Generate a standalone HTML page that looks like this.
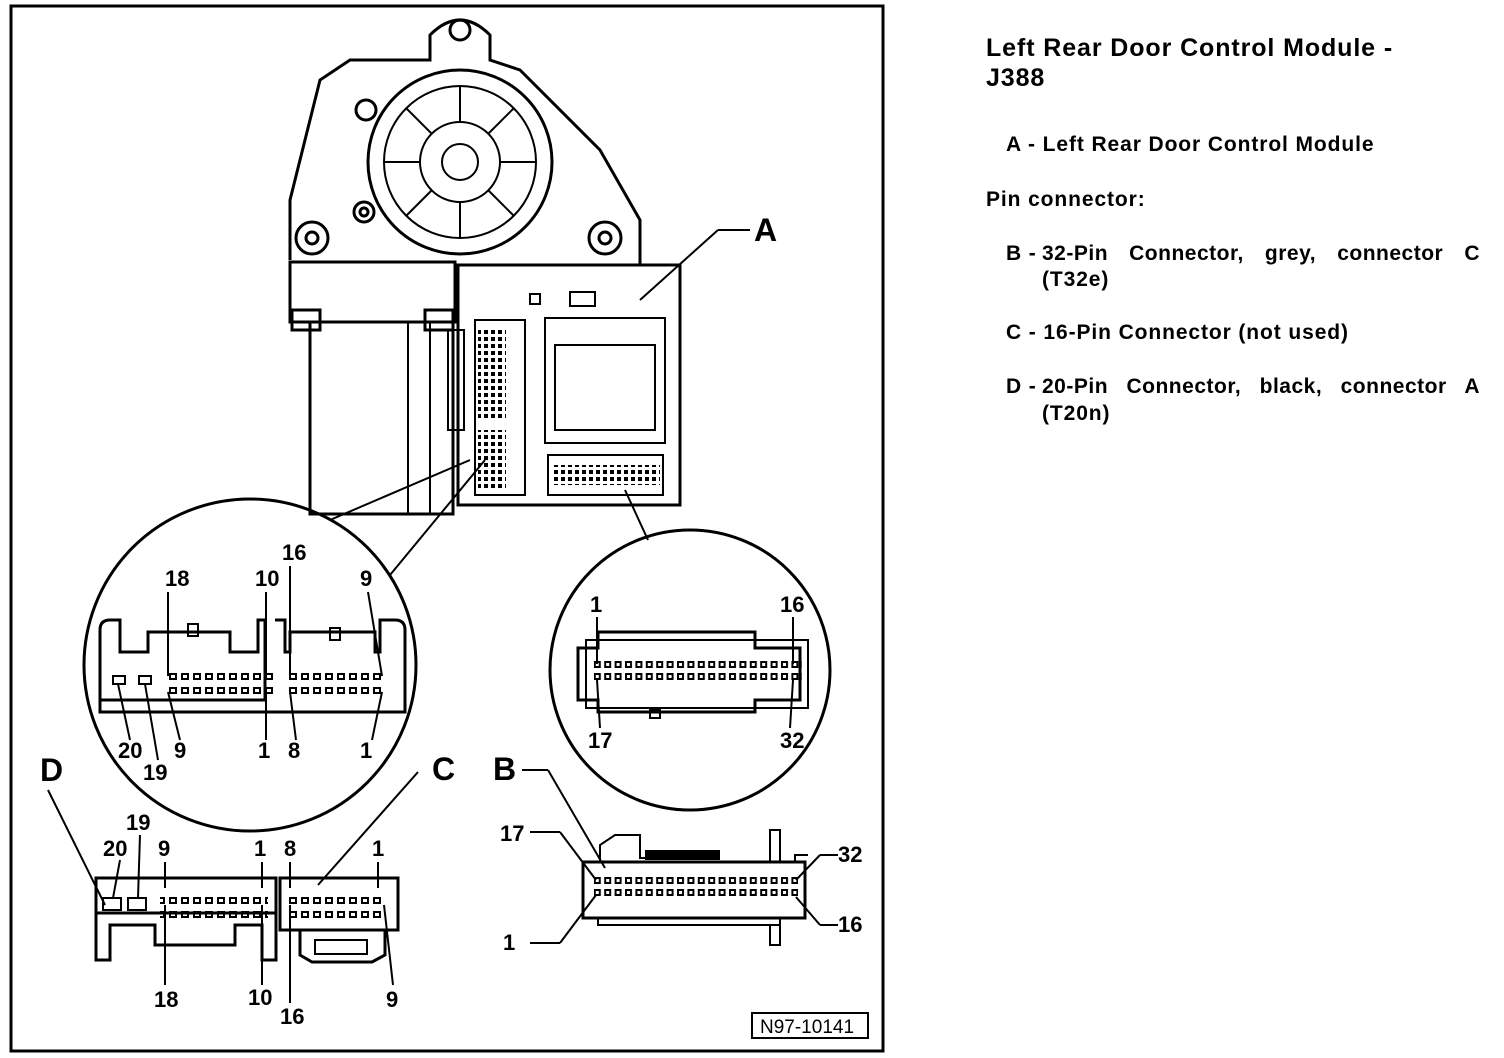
<!DOCTYPE html>
<html><head><meta charset="utf-8"><style>
html,body{margin:0;padding:0;background:#fff;}
.t{position:absolute;font-family:"Liberation Sans",Arial,sans-serif;font-weight:bold;color:#000;letter-spacing:0.9px;}
</style></head><body>
<div style="position:relative;width:1504px;height:1058px;overflow:hidden;">
<svg width="1504" height="1058" style="position:absolute;left:0;top:0" font-family="Liberation Sans, Arial, sans-serif" font-weight="bold">
<defs>
<pattern id="p12" x="0" y="0" width="12" height="14" patternUnits="userSpaceOnUse"><rect x="2" y="2" width="6" height="5" fill="none" stroke="#000" stroke-width="2"/></pattern>
<pattern id="p10" x="0" y="0" width="10.4" height="12" patternUnits="userSpaceOnUse"><rect x="2" y="2" width="5" height="5" fill="none" stroke="#000" stroke-width="2"/></pattern>
<pattern id="p7" x="0" y="0" width="7" height="7" patternUnits="userSpaceOnUse"><rect x="1" y="1" width="4" height="4" fill="#000"/></pattern>
</defs>
<g fill="none" stroke="#000" stroke-width="3">
<rect x="11" y="6" width="872" height="1045"/>
<path d="M290 260 L290 200 L320 80 L350 60 L430 60 L430 35 Q460 5 490 35 L490 60 L520 70 L600 150 L640 220 L640 265 L630 265"/>
<circle cx="460" cy="162" r="92"/>
<circle cx="460" cy="162" r="76" stroke-width="2"/>
<circle cx="460" cy="162" r="40" stroke-width="2"/>
<circle cx="460" cy="162" r="18" stroke-width="2"/>
<g stroke-width="2">
<line x1="460" y1="86" x2="460" y2="122"/><line x1="460" y1="202" x2="460" y2="238"/>
<line x1="384" y1="162" x2="420" y2="162"/><line x1="500" y1="162" x2="536" y2="162"/>
<line x1="406" y1="108" x2="432" y2="134"/><line x1="488" y1="190" x2="514" y2="216"/>
<line x1="514" y1="108" x2="488" y2="134"/><line x1="432" y1="190" x2="406" y2="216"/>
</g>
<circle cx="460" cy="30" r="10"/>
<circle cx="312" cy="238" r="16"/><circle cx="312" cy="238" r="6"/>
<circle cx="605" cy="238" r="16"/><circle cx="605" cy="238" r="6"/>
<circle cx="364" cy="212" r="10"/><circle cx="364" cy="212" r="4"/>
<circle cx="366" cy="110" r="10"/>
<rect x="290" y="262" width="165" height="60"/>
<rect x="292" y="310" width="28" height="20"/><rect x="425" y="310" width="28" height="20"/>
<rect x="310" y="322" width="143" height="192"/>
<line x1="408" y1="322" x2="408" y2="514" stroke-width="2"/>
<line x1="430" y1="322" x2="430" y2="514" stroke-width="2"/>
<rect x="458" y="265" width="222" height="240"/>
<rect x="545" y="318" width="120" height="125" stroke-width="2"/>
<rect x="555" y="345" width="100" height="85" stroke-width="2"/>
<rect x="475" y="320" width="50" height="175" stroke-width="2"/>
<rect x="448" y="330" width="16" height="100" stroke-width="2"/>
<rect x="548" y="455" width="115" height="40" stroke-width="2"/>
<rect x="570" y="292" width="25" height="14" stroke-width="2"/>
<rect x="530" y="294" width="10" height="10" stroke-width="2"/>
<line x1="640" y1="300" x2="718" y2="230" stroke-width="2"/>
<line x1="718" y1="230" x2="750" y2="230" stroke-width="2"/>
<path d="M470 460 L330 520 M485 460 L390 575" stroke-width="2"/>
<path d="M625 490 L648 540" stroke-width="2"/>
<circle cx="250" cy="665" r="166"/>
<circle cx="690" cy="670" r="140"/>
<path d="M100 630 Q100 620 110 620 L120 620 L120 652 L148 652 L148 632 L230 632 L230 652 L258 652 L258 620 L265 620 L265 700 L100 700 Z" stroke-width="3"/>
<path d="M275 620 L285 620 L285 652 L290 652 L290 632 L375 632 L375 652 L380 652 L380 620 L395 620 Q405 620 405 630 L405 712 L100 712 L100 630" stroke-width="3"/>
<rect x="188" y="624" width="10" height="12" stroke-width="2"/><rect x="330" y="628" width="10" height="12" stroke-width="2"/>
<rect x="113" y="676" width="12" height="8" stroke-width="2"/><rect x="139" y="676" width="12" height="8" stroke-width="2"/>
<path d="M578 648 L598 648 L598 632 L755 632 L755 648 L800 648 L800 700 L755 700 L755 712 L598 712 L598 700 L578 700 Z"/>
<rect x="586" y="640" width="222" height="68" stroke-width="2"/>
<rect x="650" y="710" width="10" height="8" stroke-width="2"/>
<rect x="96" y="878" width="180" height="35" stroke-width="3"/>
<path d="M96 913 L96 960 L110 960 L110 925 L155 925 L155 945 L235 945 L235 925 L262 925 L262 960 L276 960 L276 913" stroke-width="3"/>
<rect x="103" y="898" width="18" height="12" stroke-width="2"/><rect x="128" y="898" width="18" height="12" stroke-width="2"/>
<rect x="280" y="878" width="118" height="52" stroke-width="3"/>
<path d="M300 930 L300 955 L312 962 L372 962 L385 955 L385 930" stroke-width="3"/>
<rect x="315" y="940" width="52" height="14" stroke-width="2"/>
<path d="M583 862 L805 862 L805 918 L583 918 Z"/>
<path d="M600 862 L600 845 L615 835 L640 835 L640 858 L720 858 M770 862 L770 830 L780 830 L780 862 M795 862 L795 855 L808 855" stroke-width="2"/>
<path d="M598 918 L598 925 L780 925 L780 918 M770 925 L770 945 L780 945 L780 925" stroke-width="2"/>
<rect x="645" y="850" width="75" height="10" fill="#000" stroke="none"/>
<g stroke-width="2">
<line x1="48" y1="790" x2="105" y2="905"/>
<line x1="418" y1="772" x2="318" y2="885"/>
<line x1="522" y1="770" x2="548" y2="770"/><line x1="548" y1="770" x2="605" y2="868"/>
<line x1="530" y1="832" x2="560" y2="832"/><line x1="560" y1="832" x2="596" y2="880"/>
<line x1="530" y1="943" x2="560" y2="943"/><line x1="560" y1="943" x2="596" y2="895"/>
<line x1="838" y1="855" x2="820" y2="855"/><line x1="820" y1="855" x2="796" y2="880"/>
<line x1="838" y1="925" x2="820" y2="925"/><line x1="820" y1="925" x2="796" y2="897"/>
<line x1="120" y1="860" x2="113" y2="898"/><line x1="140" y1="835" x2="138" y2="898"/>
<line x1="165" y1="862" x2="165" y2="888"/><line x1="165" y1="905" x2="165" y2="985"/>
<line x1="262" y1="862" x2="262" y2="888"/><line x1="262" y1="905" x2="262" y2="985"/>
<line x1="290" y1="862" x2="290" y2="888"/><line x1="290" y1="905" x2="290" y2="1003"/>
<line x1="378" y1="862" x2="378" y2="888"/><line x1="384" y1="905" x2="393" y2="985"/>
<line x1="168" y1="592" x2="168" y2="676"/><line x1="168" y1="692" x2="180" y2="740"/>
<line x1="266" y1="592" x2="266" y2="676"/><line x1="266" y1="692" x2="266" y2="740"/>
<line x1="290" y1="566" x2="290" y2="676"/><line x1="290" y1="692" x2="296" y2="740"/>
<line x1="368" y1="592" x2="382" y2="676"/><line x1="382" y1="692" x2="372" y2="740"/>
<line x1="118" y1="684" x2="130" y2="740"/><line x1="145" y1="684" x2="158" y2="760"/>
<line x1="597" y1="617" x2="597" y2="664"/><line x1="793" y1="617" x2="793" y2="664"/>
<line x1="597" y1="680" x2="600" y2="728"/><line x1="793" y1="680" x2="790" y2="728"/>
</g>
</g>
<rect x="166" y="670" width="108" height="28" fill="url(#p12)"/>
<rect x="288" y="670" width="96" height="28" fill="url(#p12)"/>
<rect x="594" y="660" width="208" height="24" fill="url(#p10)"/>
<rect x="160" y="895" width="108" height="28" fill="url(#p12)"/>
<rect x="286" y="895" width="96" height="28" fill="url(#p12)"/>
<rect x="594" y="876" width="204" height="24" fill="url(#p10)"/>
<rect x="478" y="330" width="28" height="90" fill="url(#p7)"/>
<rect x="478" y="430" width="28" height="60" fill="url(#p7)"/>
<rect x="552" y="465" width="108" height="20" fill="url(#p7)"/>
<g font-size="22" fill="#000">
<text x="165" y="586">18</text><text x="255" y="586">10</text><text x="282" y="560">16</text><text x="360" y="586">9</text>
<text x="118" y="758">20</text><text x="174" y="758">9</text><text x="258" y="758">1</text><text x="288" y="758">8</text><text x="360" y="758">1</text>
<text x="143" y="780">19</text>
<text x="590" y="612">1</text><text x="780" y="612">16</text>
<text x="588" y="748">17</text><text x="780" y="748">32</text>
<text x="126" y="830">19</text><text x="103" y="856">20</text><text x="158" y="856">9</text><text x="254" y="856">1</text><text x="284" y="856">8</text><text x="372" y="856">1</text>
<text x="154" y="1007">18</text><text x="248" y="1005">10</text><text x="280" y="1024">16</text><text x="386" y="1007">9</text>
<text x="500" y="841">17</text><text x="503" y="950">1</text><text x="838" y="862">32</text><text x="838" y="932">16</text>
</g>
<g font-size="32" fill="#000">
<text x="754" y="241">A</text><text x="40" y="781">D</text><text x="432" y="780">C</text><text x="493" y="780">B</text>
</g>
<rect x="752" y="1013" width="116" height="25" fill="none" stroke="#000" stroke-width="2"/>
<text x="760" y="1033" font-size="19" font-weight="normal" fill="#000">N97-10141</text>
</svg>
<div class="t" style="left:986px;top:33px;font-size:25px;line-height:30px;letter-spacing:0.9px;">Left Rear Door Control Module -<br>J388</div>
<div class="t" style="left:1006px;top:133px;font-size:21px;">A - Left Rear Door Control Module</div>
<div class="t" style="left:986px;top:188px;font-size:21px;">Pin connector:</div>
<div class="t" style="left:1006px;top:242px;font-size:21px;">B -</div>
<div class="t" style="left:1042px;top:242px;font-size:21px;width:438px;text-align:justify;text-align-last:justify;letter-spacing:0.5px;">32-Pin Connector, grey, connector C</div>
<div class="t" style="left:1042px;top:268px;font-size:21px;">(T32e)</div>
<div class="t" style="left:1006px;top:321px;font-size:21px;">C - 16-Pin Connector (not used)</div>
<div class="t" style="left:1006px;top:375px;font-size:21px;">D -</div>
<div class="t" style="left:1042px;top:375px;font-size:21px;width:438px;text-align:justify;text-align-last:justify;letter-spacing:0.5px;">20-Pin Connector, black, connector A</div>
<div class="t" style="left:1042px;top:402px;font-size:21px;">(T20n)</div>
</div>
</body></html>
